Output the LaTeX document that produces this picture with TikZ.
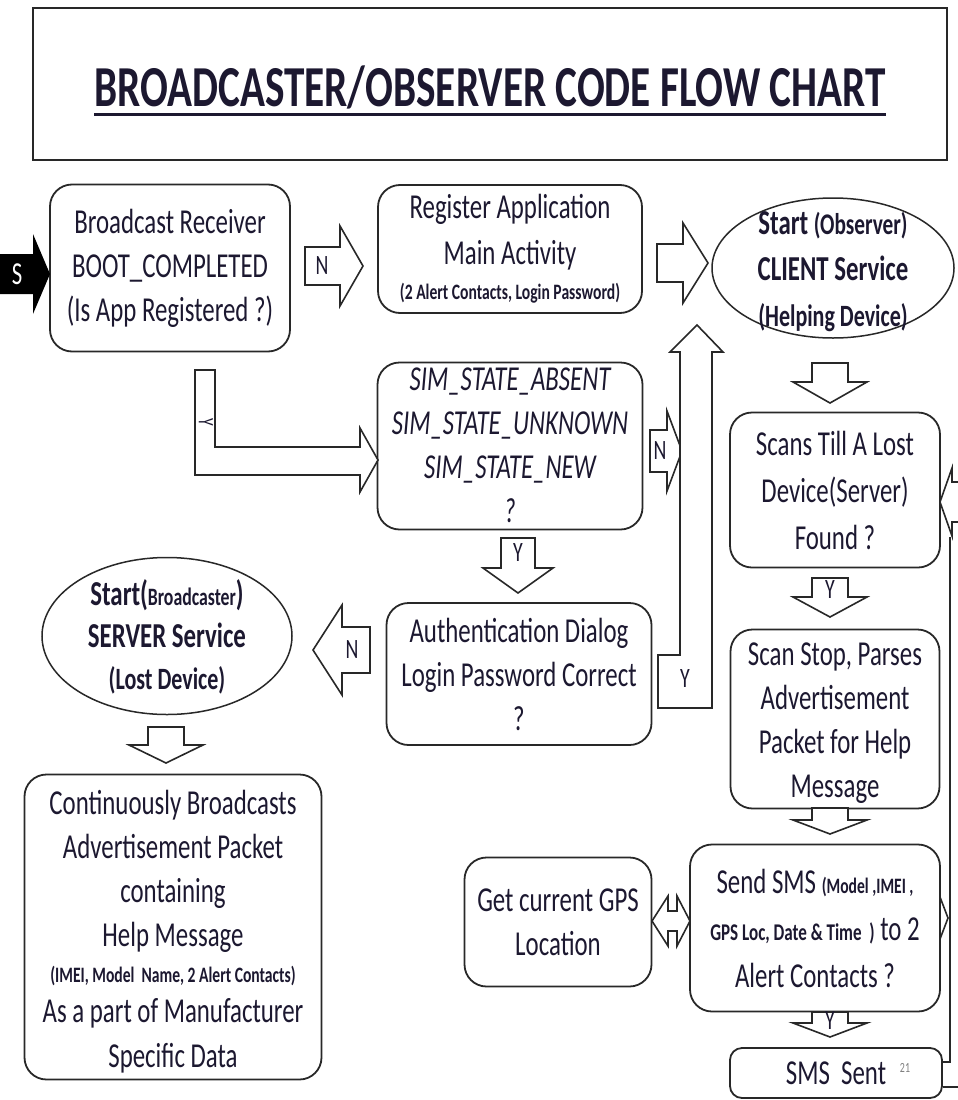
\documentclass[tikz,border=0pt]{standalone}
\usepackage{fontspec}
\setmainfont{Carlito}[FakeStretch=0.71]
\usetikzlibrary{shapes.geometric}
\definecolor{ink}{RGB}{28,24,48}
\definecolor{edge}{RGB}{40,40,40}
\newcommand\bigtext{\fontsize{35}{44}\selectfont}
\newcommand\smalltext{\fontsize{22}{24}\selectfont}
% block arrow pointing sideways: x start, x head base, x tip, y, body half, head half
\newcommand\hblock[7][]{\draw[blk,#1] (#2,{#5-#6}) -- (#3,{#5-#6}) -- (#3,{#5-#7}) -- (#4,#5) -- (#3,{#5+#7}) -- (#3,{#5+#6}) -- (#2,{#5+#6}) -- cycle;}
% block arrow pointing down: y start, y head base, y tip, x, body half, head half
\newcommand\vblock[6]{\draw[blk] ({#4-#5},#1) -- ({#4-#5},#2) -- ({#4-#6},#2) -- (#4,#3) -- ({#4+#6},#2) -- ({#4+#5},#2) -- ({#4+#5},#1) -- cycle;}
\begin{document}
\begin{tikzpicture}[x=1pt,y=-1pt,
  box/.style={draw=edge, line width=1.8pt, rounded corners=22pt, fill=white, align=center, text=ink, font=\bigtext, inner sep=0pt},
  oval/.style={draw=edge, line width=1.5pt, ellipse, fill=white, inner sep=0pt},
  ovaltext/.style={align=center, text=ink, font=\fontsize{35}{46}\selectfont\bfseries, inner sep=0pt},
  blk/.style={draw=edge, line width=1.6pt, fill=white, line join=miter},
  lbl/.style={text=ink, font=\fontsize{28}{30}\selectfont, inner sep=0pt},
  wire/.style={draw=edge, line width=1.6pt}
]
\useasboundingbox (0,0) rectangle (958,1100);
\fill[white] (0,0) rectangle (958,1100);

% heading
\node[draw=edge, line width=1.8pt, minimum width=914, minimum height=152, inner sep=0pt] (frame) at (490,84) {};
\node[anchor=base, inner sep=0pt, text=ink, font=\bfseries\fontsize{58}{60}\selectfont] (title) at (490,106) {BROADCASTER/OBSERVER CODE FLOW CHART};
\draw[ink, line width=3pt] ([yshift=-8pt]title.base west) -- ([yshift=-8pt]title.base east);

% boxes
\node[box, minimum width=240, minimum height=167] (boot) at (170,268) {Broadcast Receiver\\BOOT\_COMPLETED\\(Is App Registered ?)};
\node[box, minimum width=264, minimum height=128] (reg) at (510,249) {Register Application\\[2pt]Main Activity\\[-9pt]{\smalltext\bfseries (2 Alert Contacts, Login Password)}};
\node[box, minimum width=265, minimum height=167] (sim) at (510,446) {};
\begin{scope}
  \clip (378,367) rectangle (643,530);
  \node[align=center, text=ink, font=\bigtext\itshape, inner sep=0pt] (simtxt) at ([yshift=1pt]sim) {SIM\_STATE\_ABSENT\\SIM\_STATE\_UNKNOWN\\SIM\_STATE\_NEW\\?};
\end{scope}
\node[box, minimum width=265, minimum height=142] (auth) at (519,674) {Authentication Dialog\\Login Password Correct\\?};
\node[box, minimum width=210, minimum height=155, font=\fontsize{35}{47}\selectfont] (scan) at (835,490) {Scans Till A Lost\\Device(Server)\\Found ?};
\node[box, minimum width=209, minimum height=179] (parse) at (835,719) {};
\node[align=center, text=ink, font=\bigtext, inner sep=0pt] (parsetxt) at (835,723) {Scan Stop, Parses\\Advertisement\\Packet for Help\\Message};
\node[box, minimum width=250, minimum height=167, font=\fontsize{35}{47}\selectfont] (sms) at (815,928) {Send SMS {\smalltext\bfseries (Model ,IMEI ,}\\{\fontsize{24}{26}\selectfont\bfseries GPS Loc, Date \& Time\ \ )} to 2\\Alert Contacts ?};
\node[box, rounded corners=12pt, minimum width=212, minimum height=50] (sent) at (836,1073) {SMS\ \ Sent};
\node[text=gray, font=\fontsize{14}{14}\selectfont, inner sep=0pt] (note) at (905,1068) {21};
\node[box, minimum width=187, minimum height=129] (gps) at (558,922) {Get current GPS\\Location};
\node[box, minimum width=297, minimum height=305] (bcast) at (173,927) {};
\node[align=center, text=ink, font=\bigtext, inner sep=0pt] (bcasttxt) at (173,932) {Continuously Broadcasts\\Advertisement Packet\\containing\\Help Message\\[-8pt]{\smalltext\bfseries (IMEI, Model\ \ Name, 2 Alert Contacts)}\\[-4pt]As a part of Manufacturer\\[1pt]Specific Data};

% services
\node[oval, minimum width=242, minimum height=140] (client) at (833,268) {};
\node[ovaltext] (clienttxt) at (833,272) {Start {\fontsize{30}{30}\selectfont(Observer)}\\CLIENT Service\\{\fontsize{31}{31}\selectfont(Helping Device)}};
\node[oval, minimum width=250, minimum height=157] (server) at (167,636) {};
\node[ovaltext, font=\fontsize{35}{42}\selectfont\bfseries] (servertxt) at (167,637) {Start({\fontsize{25}{25}\selectfont Broadcaster})\\SERVER Service\\{\fontsize{31}{31}\selectfont(Lost Device)}};

% start marker
\fill[black] (0,254) -- (33,254) -- (33,234) -- (50,274) -- (33,314) -- (33,294) -- (0,294) -- cycle;
\node[text=white, font=\fontsize{32}{32}\selectfont, inner sep=0pt] (start) at (17,274) {S};

% block arrows
\hblock{305}{340}{363}{266}{19}{40}
\node[lbl] (n1) at (322,266) {N};
\hblock{657}{683}{708}{263}{19}{40}
\vblock{363}{382}{403}{830}{18}{37}
\vblock{578}{597}{617}{830}{18}{37}
\node[lbl] (y1) at (830,590) {Y};
\vblock{808}{820}{834}{830}{18}{37}
\vblock{1012}{1023}{1037}{830}{18}{37}
\node[lbl] (y2) at (830,1021) {Y};
\hblock{650}{667}{682}{451}{21}{40}
\node[lbl] (n2) at (660,451) {N};
\vblock{538}{568}{593}{518}{17}{35}
\node[lbl] (y3) at (518,553) {Y};
\hblock{370}{342}{313}{650}{23}{45}
\node[lbl] (n3) at (352,650) {N};
\vblock{727}{745}{763}{166}{18}{37}

% bent arrow from the boot check to the SIM check
\draw[blk] (195,370) -- (215,370) -- (215,447) -- (360,447) -- (360,428) -- (378,460) -- (360,492) -- (360,475) -- (195,475) -- cycle;
\node[text=ink, font=\fontsize{22}{22}\selectfont, inner sep=0pt, rotate=-90] (y4) at (206,422) {Y};

% bent arrow from the password check up to the client service
\draw[blk] (697,325) -- (723,352) -- (712,352) -- (712,708) -- (658,708) -- (658,655) -- (680,655) -- (680,352) -- (670,352) -- cycle;
\node[lbl] (y5) at (685,679) {Y};

% two-way arrow between GPS and SMS
\draw[blk] (652,921) -- (668,896) -- (668,911) -- (677,911) -- (677,896) -- (690,921) -- (677,946) -- (677,931) -- (668,931) -- (668,946) -- cycle;

% loop back along the right edge
\draw[wire] ([yshift=11pt]sent.east) -- (950,1062) -- (950,537);
\draw[wire] ([yshift=-14pt]sent.east) -- (958,1087);
\draw[wire, line join=miter] (958,482) -- (952,482) -- (952,468) -- (940,502) -- (952,536) -- (952,522) -- (958,522);
\draw[wire, line join=miter] (940,897) -- (948,918) -- (940,939);
\end{tikzpicture}
\end{document}
